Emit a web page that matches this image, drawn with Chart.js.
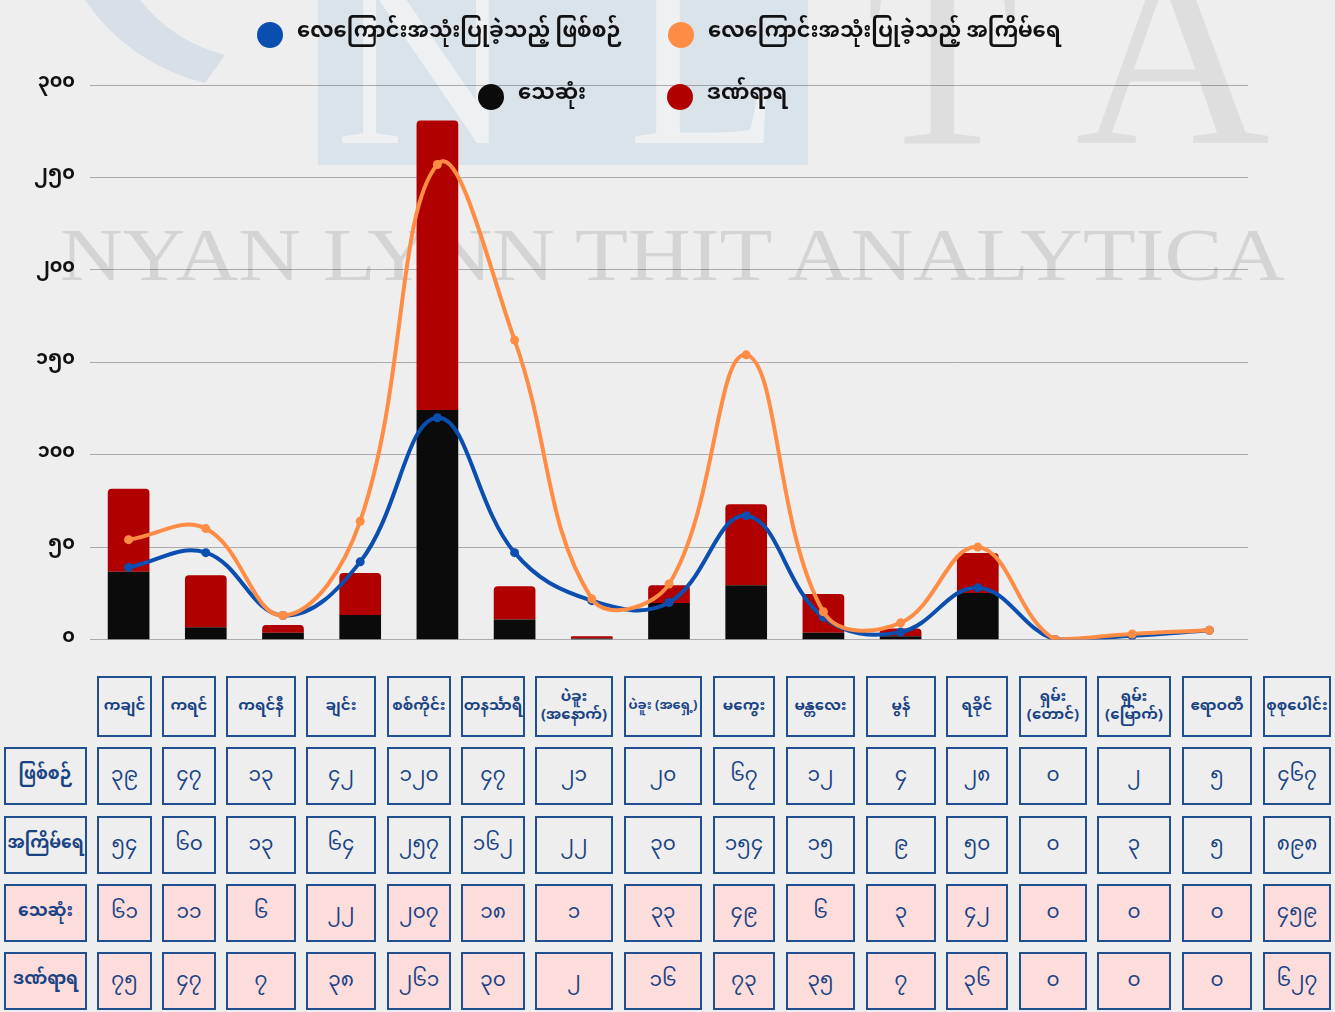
<!DOCTYPE html>
<html>
<head>
<meta charset="utf-8">
<script src="https://cdn.jsdelivr.net/npm/chart.js@4.4.1/dist/chart.umd.min.js"></script>
<style>
html,body{margin:0;padding:0;width:1335px;height:1012px;overflow:hidden;background:#eeeeee;}
#wm{position:absolute;left:0;top:0;}
#chartBox{position:absolute;left:0;top:0;width:1335px;height:664px;}
.cell{position:absolute;box-sizing:border-box;border:2px solid #1f4f8f;display:flex;align-items:center;justify-content:center;text-align:center;color:#1a4384;font-family:'Noto Sans Myanmar','Padauk','Myanmar Text','Noto Sans',sans-serif;line-height:1.15;}
.hdr{font-weight:bold;font-size:15px;}
.rowh{font-weight:bold;font-size:17px;}
.num{font-size:20px;}
.pink{background:#fddcdc;}
</style>
</head>
<body>
<svg id="wm" width="1335" height="1012">
  <path d="M 85 0 A 200 200 0 0 0 205 83 L 225 55 A 160 160 0 0 1 140 0 Z" fill="#c9d5e3" opacity="0.6"/>
  <rect x="318" y="0" width="490" height="165" fill="#d3dde8" opacity="0.75"/>
  <text x="335" y="143" font-family="Liberation Serif" font-size="250" fill="#f3f3f3" opacity="0.85">N</text>
  <text x="628" y="143" font-family="Liberation Serif" font-size="250" fill="#f3f3f3" opacity="0.85">L</text>
  <text x="866" y="143" font-family="Liberation Serif" font-size="250" fill="#b8b8b8" opacity="0.28">T</text>
  <text x="1075" y="143" font-family="Liberation Serif" font-size="270" fill="#b8b8b8" opacity="0.28">A</text>
  <text x="60" y="280" textLength="1225" lengthAdjust="spacingAndGlyphs" font-family="Liberation Serif" font-size="74" fill="#9a9a9a" opacity="0.3">NYAN LYNN THIT ANALYTICA</text>
</svg>
<div id="chartBox"><canvas id="c"></canvas></div>
<div id="tbl"></div>
<script>
// ---- data ----
const categories = ['ကချင်','ကရင်','ကရင်နီ','ချင်း','စစ်ကိုင်း','တနင်္သာရီ','ပဲခူး\n(အနောက်)','ပဲခူး (အရှေ့)','မကွေး','မန္တလေး','မွန်','ရခိုင်','ရှမ်း\n(တောင်)','ရှမ်း\n(မြောက်)','ဧရာဝတီ'];
const totalLabel = 'စုစုပေါင်း';
const incidents = [39,47,13,42,120,47,21,20,67,12,4,28,0,2,5];
const strikes   = [54,60,13,64,257,162,22,30,154,15,9,50,0,3,5];
const killed    = [61,11,6,22,207,18,1,33,49,6,3,42,0,0,0];
const injured   = [75,47,7,38,261,30,2,16,73,35,7,36,0,0,0];
const totals    = [467,898,459,627];
const rowLabels = ['ဖြစ်စဉ်','အကြိမ်ရေ','သေဆုံး','ဒဏ်ရာရ'];
const seriesLabels = ['လေကြောင်းအသုံးပြုခဲ့သည့် ဖြစ်စဉ်','လေကြောင်းအသုံးပြုခဲ့သည့် အကြိမ်ရေ','သေဆုံး','ဒဏ်ရာရ'];
const yTickValues = [0,50,100,150,200,250,300];
const yTickLabels = ['၀','၅၀','၁၀၀','၁၅၀','၂၀၀','၂၅၀','၃၀၀'];

const MYF = "'Noto Sans Myanmar','Padauk','Myanmar Text','Noto Sans',sans-serif";
const myDigits = '၀၁၂၃၄၅၆၇၈၉';
const toMy = n => String(n).replace(/[0-9]/g, d => myDigits[+d]);

// ---- legend layout (style only) ----
const legendPos = [{x:270,y:35},{x:681,y:35},{x:491,y:97},{x:680,y:97}];
const customLegend = {
  id:'customLegend',
  afterDraw(chart){
    const ctx = chart.ctx;
    ctx.save();
    chart.data.datasets.forEach((ds,i)=>{
      const p = legendPos[i];
      ctx.beginPath();
      ctx.fillStyle = ds.legendColor;
      ctx.arc(p.x, p.y, 13, 0, Math.PI*2);
      ctx.fill();
      ctx.fillStyle = '#111';
      ctx.font = 'bold 21px ' + MYF;
      ctx.textBaseline = 'middle';
      ctx.textAlign = 'left';
      ctx.fillText(ds.label, p.x + 27, p.y);
    });
    ctx.restore();
  }
};

const BLUE = '#0a4fb0', ORANGE = '#ff8c45', BLACK = '#0b0b0b', RED = '#b00000';

new Chart(document.getElementById('c'), {
  type:'bar',
  data:{
    labels: categories,
    datasets:[
      {type:'line', label:seriesLabels[0], data:incidents, borderColor:BLUE, backgroundColor:BLUE, legendColor:BLUE,
       borderWidth:4, pointRadius:4.5, pointBackgroundColor:BLUE, pointBorderWidth:0, tension:0.4, yAxisID:'y', order:1},
      {type:'line', label:seriesLabels[1], data:strikes, borderColor:ORANGE, backgroundColor:ORANGE, legendColor:ORANGE,
       borderWidth:4, pointRadius:4.5, pointBackgroundColor:ORANGE, pointBorderWidth:0, tension:0.4, yAxisID:'y', order:0},
      {type:'bar', label:seriesLabels[2], data:killed, backgroundColor:BLACK, legendColor:BLACK, yAxisID:'y2', stack:'cas',
       barPercentage:0.9, categoryPercentage:0.6, borderRadius:4, order:2},
      {type:'bar', label:seriesLabels[3], data:injured, backgroundColor:RED, legendColor:RED, yAxisID:'y2', stack:'cas',
       barPercentage:0.9, categoryPercentage:0.6, borderRadius:4, order:3}
    ]
  },
  options:{
    responsive:true, maintainAspectRatio:false, animation:false,
    layout:{padding:{top:85,right:87,bottom:22,left:0}},
    plugins:{legend:{display:false}, tooltip:{enabled:false}},
    scales:{
      x:{display:false, stacked:true},
      y:{position:'left', min:0, max:300,
         afterFit(s){ s.width = 90; },
         afterBuildTicks(s){ s.ticks = yTickValues.map(v=>({value:v})); },
         grid:{color:'rgba(0,0,0,0.28)', drawTicks:false, lineWidth:1},
         border:{display:false},
         ticks:{padding:15, color:'#111', font:{family:MYF, size:19, weight:'bold', lineHeight:1},
                callback:(v)=>yTickLabels[yTickValues.indexOf(v)] }},
      y2:{display:false, min:0, max:500, stacked:true}
    }
  },
  plugins:[customLegend]
});

// ---- table (layout constants are style) ----
const colL = [4,97,162,226,306,387,461,535,624,713,786,866,946,1019,1097,1182,1263];
const colR = [87,152,216,296,376,451,525,613,702,775,855,936,1008,1087,1171,1252,1331];
const rowT = [676,747,816,884,952];
const rowH = [61,58,58,58,58];
const tbl = document.getElementById('tbl');
function cell(col,row,html,cls){
  const d = document.createElement('div');
  d.className = 'cell ' + cls;
  d.style.left = colL[col]+'px';
  d.style.width = (colR[col]-colL[col])+'px';
  d.style.top = rowT[row]+'px';
  d.style.height = rowH[row]+'px';
  d.innerHTML = html;
  tbl.appendChild(d);
}
const headers = categories.concat([totalLabel]);
headers.forEach((h,i)=>{
  const small = h.indexOf(' (')>=0 ? ' style="font-size:13px"' : '';
  cell(i+1,0,'<span'+small+'>'+h.replace('\n','<br>')+'</span>','hdr');
});
const rows = [incidents,strikes,killed,injured];
rows.forEach((arr,r)=>{
  const pink = r>=2 ? ' pink' : '';
  cell(0,r+1,rowLabels[r],'rowh'+pink);
  arr.forEach((v,i)=>cell(i+1,r+1,toMy(v),'num'+pink));
  cell(16,r+1,toMy(totals[r]),'num'+pink);
});
</script>
</body>
</html>
